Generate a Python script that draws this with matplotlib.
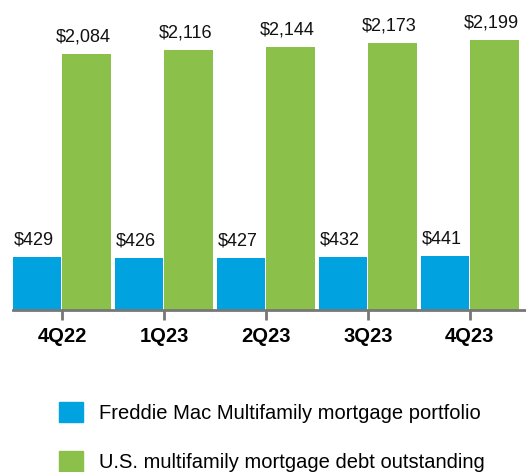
import matplotlib.pyplot as plt
from matplotlib.patches import Patch

# Data (billions USD)
quarters = ["4Q22", "1Q23", "2Q23", "3Q23", "4Q23"]
freddie = [429, 426, 427, 432, 441]
us_total = [2084, 2116, 2144, 2173, 2199]
series_names = ["Freddie Mac Multifamily mortgage portfolio",
                "U.S. multifamily mortgage debt outstanding"]

blue = "#00a3e0"
green = "#8bc04a"

plt.rcParams['font.family'] = ['Liberation Sans', 'DejaVu Sans']

fig = plt.figure(figsize=(5.26, 4.72), dpi=100)
ax = fig.add_axes([13 / 526, 0.343, 513 / 526, 0.624])

x = list(range(len(quarters)))
w = 0.475
b1 = ax.bar([i - w / 2 - 0.005 for i in x], freddie, width=w, color=blue)
b2 = ax.bar([i + w / 2 + 0.005 for i in x], us_total, width=w, color=green)

for bars, vals in [(b1, freddie), (b2, us_total)]:
    for r, v in zip(bars, vals):
        ax.text(r.get_x() + r.get_width() / 2 - 0.03, v + 70, f"${v:,}",
                ha="center", va="bottom", fontsize=13, color="#111111")

ax.set_xlim(-0.48, 4.55)
ax.set_ylim(0, 2400)
ax.set_xticks(x)
ax.set_xticklabels(quarters, fontsize=14.5, fontweight="bold")
ax.tick_params(axis="x", length=7.5, width=2, color="#777777", pad=5)
ax.set_yticks([])
for s in ["top", "right", "left"]:
    ax.spines[s].set_visible(False)
ax.spines["bottom"].set_color("#777777")
ax.spines["bottom"].set_linewidth(2)

# Legend
handles = [Patch(color=blue), Patch(color=green)]
fig.legend(handles, series_names, loc="upper left", bbox_to_anchor=(59 / 526, 0.149),
           frameon=False, fontsize=14.5, handlelength=1.2, handleheight=1.2,
           handletextpad=0.8, labelspacing=1.4, borderaxespad=0, borderpad=0)

fig.savefig("out.png", dpi=100)
